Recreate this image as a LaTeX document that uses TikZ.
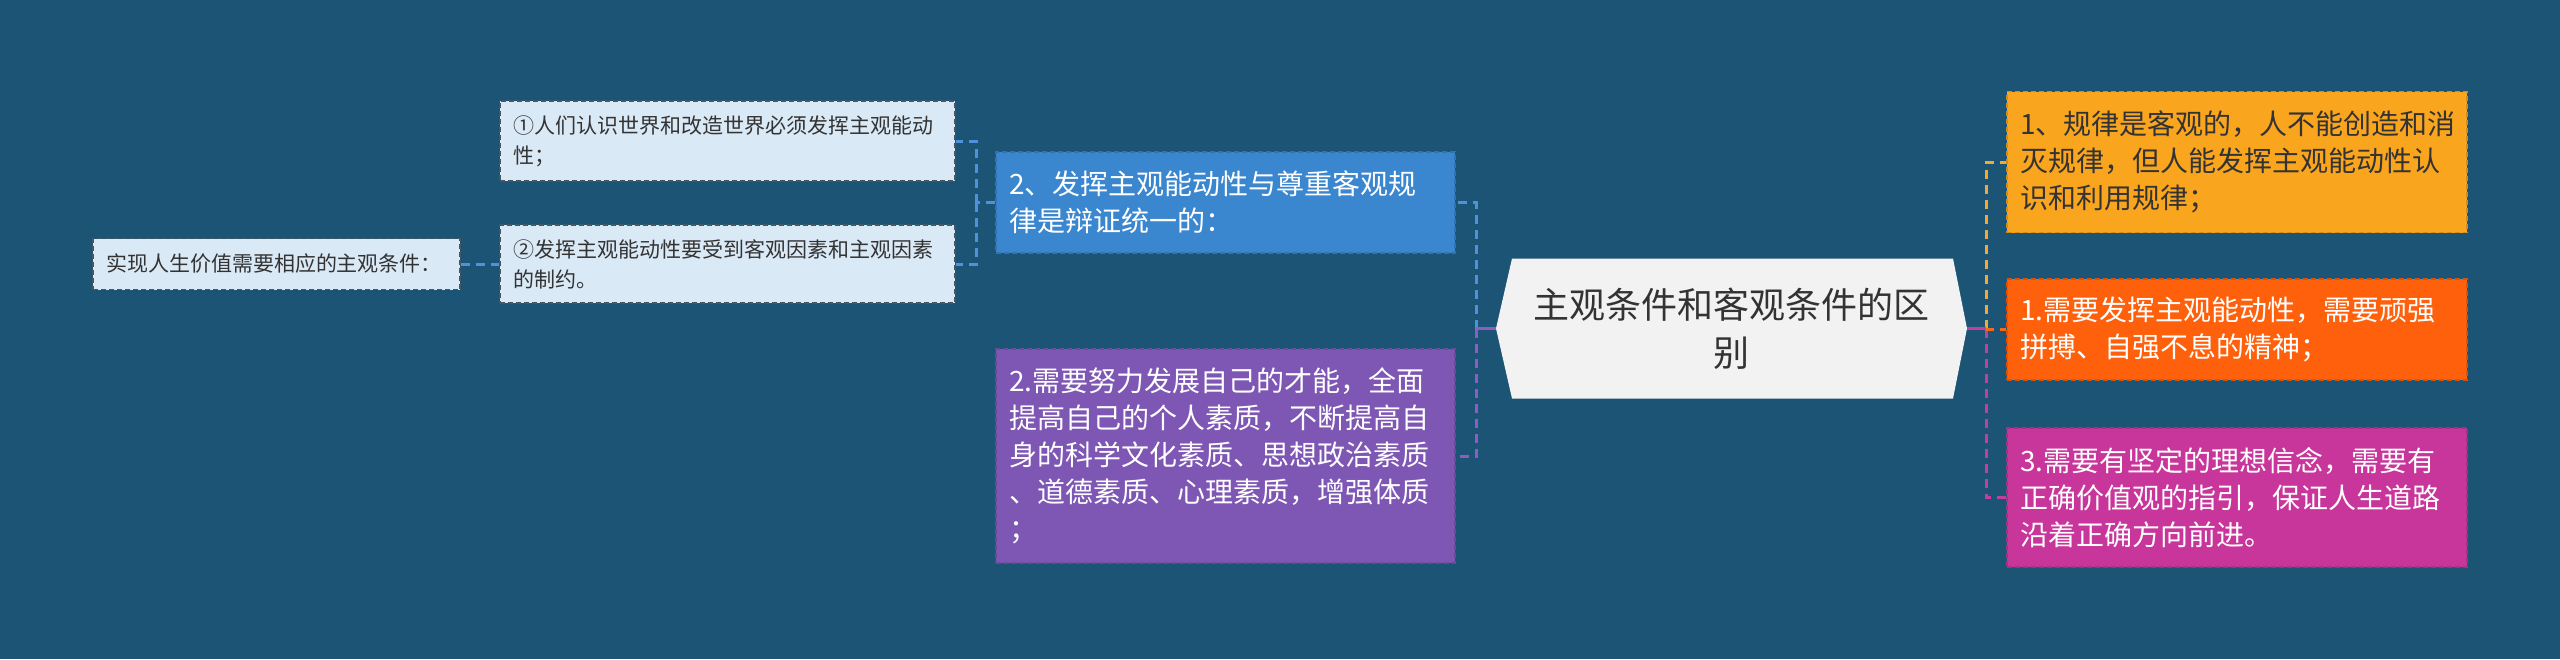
\documentclass[tikz,border=0pt]{standalone}
\usepackage{fontspec}
\setmainfont{Noto Sans CJK SC}
\usetikzlibrary{calc}
\definecolor{bg}{HTML}{1B5475}
\definecolor{lightfill}{HTML}{DAE9F6}
\definecolor{lightborder}{HTML}{4A5560}
\definecolor{darktext}{HTML}{333333}
\definecolor{bluefill}{HTML}{3A86CF}
\definecolor{purplefill}{HTML}{7E57B4}
\definecolor{orangefill}{HTML}{FAA51E}
\definecolor{redfill}{HTML}{FE600B}
\definecolor{magfill}{HTML}{C8369B}
\definecolor{hexfill}{HTML}{F2F2F2}
\definecolor{blueline}{HTML}{4D92DA}
\definecolor{purpline}{HTML}{8D5DC2}
\definecolor{orangeline}{HTML}{F2A92E}
\definecolor{redline}{HTML}{F26A1E}
\definecolor{magline}{HTML}{C43E9E}
\begin{document}
\begin{tikzpicture}[x=1pt,y=-1pt,
  boxbase/.style={line width=1.5pt, dash pattern=on 5pt off 3pt, align=left, inner xsep=13pt, inner ysep=0pt, anchor=center},
  lightbox/.style={boxbase, draw=lightborder, fill=lightfill, text=darktext, font=\fontsize{21}{30}\selectfont},
  colbox/.style={boxbase, draw=#1!85!black, fill=#1, text=white, font=\fontsize{28}{37}\selectfont},
  conn/.style={line width=3pt, dash pattern=on 9pt off 6pt},
  stub/.style={line width=3pt}
]
\useasboundingbox[fill=bg] (0,0) rectangle (2560,659);

% hexagon shape
\coordinate (hc) at (1731.5,328.5);
\fill[hexfill] ($(hc)+(-235.5,0)$) -- ($(hc)+(-219.5,-70)$) -- ($(hc)+(221.5,-70)$) -- ($(hc)+(235.5,0)$) -- ($(hc)+(221.5,70)$) -- ($(hc)+(-219.5,70)$) -- cycle;
\node[minimum width=471pt, minimum height=140pt, inner sep=0pt, align=center, text=darktext, font=\fontsize{36}{48}\selectfont] (h) at (hc) {主观条件和客观条件的区\\别};

% left branch
\node[colbox=bluefill, minimum width=459pt, text width=433pt, minimum height=101pt] (b) at (1225.5,202.5) {2、发挥主观能动性与尊重客观规\\律是辩证统一的：};
\node[colbox=purplefill, minimum width=459pt, text width=433pt, minimum height=214pt] (p) at (1225.5,456) {2.需要努力发展自己的才能，全面\\提高自己的个人素质，不断提高自\\身的科学文化素质、思想政治素质\\、道德素质、心理素质，增强体质\\；};
\node[lightbox, minimum width=455pt, text width=429pt, minimum height=80pt] (c1) at (727.5,141) {①人们认识世界和改造世界必须发挥主观能动\\性；};
\node[lightbox, minimum width=455pt, text width=429pt, minimum height=78pt] (c2) at (727.5,264) {②发挥主观能动性要受到客观因素和主观因素\\的制约。};
\node[lightbox, minimum width=367pt, text width=341pt, minimum height=51pt] (lv) at (276.5,264) {实现人生价值需要相应的主观条件：};

% right branch
\node[colbox=orangefill, text=darktext, minimum width=460pt, text width=434pt, minimum height=141pt] (o) at (2237,162) {1、规律是客观的，人不能创造和消\\灭规律，但人能发挥主观能动性认\\识和利用规律；};
\node[colbox=redfill, minimum width=460pt, text width=434pt, minimum height=101pt] (r) at (2237,329.5) {1.需要发挥主观能动性，需要顽强\\拼搏、自强不息的精神；};
\node[colbox=magfill, minimum width=460pt, text width=434pt, minimum height=139pt] (m) at (2237,497.5) {3.需要有坚定的理想信念，需要有\\正确价值观的指引，保证人生道路\\沿着正确方向前进。};

% connectors
\coordinate (hl) at (1476,328.5);
\coordinate (hr) at (1986,328.5);
\coordinate (bl) at (976,202.5);
\draw[conn, blueline] (hl) |- (b.east);
\draw[conn, purpline] (hl) |- (p.east);
\draw[stub, purpline] (h.west) -- (hl);
\draw[conn, orangeline] (hr) |- (o.west);
\draw[conn, magline] (hr) |- (m.west);
\draw[conn, redline] (hr) |- (r.west);
\draw[stub, magline] (h.east) -- (hr);
\draw[conn, blueline] (b.west) -- (bl);
\draw[conn, blueline] (bl) |- (c1.east);
\draw[conn, blueline] (bl) |- (c2.east);
\draw[conn, blueline] (lv.east) -- (c2.west);
\end{tikzpicture}
\end{document}
